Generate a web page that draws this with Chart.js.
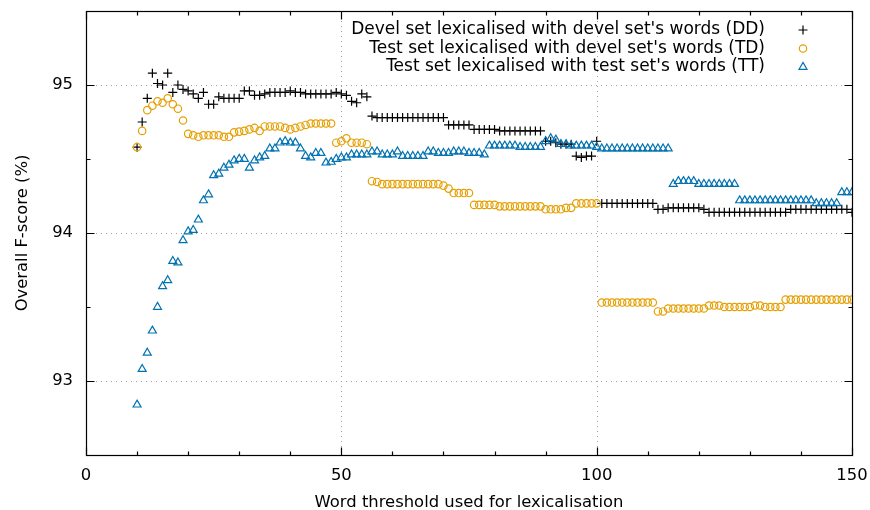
<!DOCTYPE html>
<html>
<head>
<meta charset="utf-8">
<script src="https://cdn.jsdelivr.net/npm/chart.js@4.4.0/dist/chart.umd.min.js"></script>
<style>
  html, body { margin: 0; padding: 0; background: #fff; }
  #wrap { width: 870px; height: 510px; }
</style>
</head>
<body>
<div id="wrap"><canvas id="fscore" width="870" height="510"></canvas></div>
<script>
// word threshold used for lexicalisation, 10 .. 150
const thresholds = Array.from({ length: 141 }, (_, i) => 10 + i);

// Devel set lexicalised with devel set's words (DD)
const ddScores = [
  94.58, 94.75, 94.91, 95.08, 95.01, 95.00, 95.08, 94.95, 95.00, 94.97,
  94.96, 94.94, 94.91, 94.95, 94.87, 94.87, 94.92, 94.91, 94.91, 94.91,
  94.91, 94.96, 94.96, 94.93, 94.93, 94.94, 94.95, 94.95, 94.95, 94.95,
  94.96, 94.95, 94.95, 94.94, 94.94, 94.94, 94.94, 94.94, 94.94, 94.95,
  94.94, 94.93, 94.89, 94.88, 94.94, 94.92, 94.79, 94.78, 94.78, 94.78,
  94.78, 94.78, 94.78, 94.78, 94.78, 94.78, 94.78, 94.78, 94.78, 94.78,
  94.78, 94.73, 94.73, 94.73, 94.73, 94.73, 94.70, 94.70, 94.70, 94.70,
  94.70, 94.69, 94.69, 94.69, 94.69, 94.69, 94.69, 94.69, 94.69, 94.69,
  94.62, 94.62, 94.61, 94.60, 94.60, 94.60, 94.52, 94.51, 94.52, 94.52,
  94.62, 94.20, 94.20, 94.20, 94.20, 94.20, 94.20, 94.20, 94.20, 94.20,
  94.20, 94.20, 94.16, 94.16, 94.17, 94.17, 94.17, 94.17, 94.17, 94.17,
  94.17, 94.16, 94.14, 94.14, 94.14, 94.14, 94.14, 94.14, 94.14, 94.14,
  94.14, 94.14, 94.14, 94.14, 94.14, 94.14, 94.14, 94.14, 94.16, 94.16,
  94.16, 94.16, 94.16, 94.16, 94.16, 94.16, 94.16, 94.16, 94.16, 94.16,
  94.14
];

// Test set lexicalised with devel set's words (TD)
const tdScores = [
  94.58, 94.69, 94.83, 94.86, 94.89, 94.88, 94.91, 94.87, 94.84, 94.76,
  94.67, 94.66, 94.65, 94.66, 94.66, 94.66, 94.66, 94.65, 94.65, 94.68,
  94.685, 94.69, 94.70, 94.71, 94.69, 94.72, 94.72, 94.72, 94.72, 94.71,
  94.70, 94.71, 94.72, 94.73, 94.74, 94.74, 94.74, 94.74, 94.74, 94.61,
  94.62, 94.64, 94.61, 94.61, 94.61, 94.60, 94.35, 94.345, 94.33, 94.33,
  94.33, 94.33, 94.33, 94.33, 94.33, 94.33, 94.33, 94.33, 94.33, 94.33,
  94.32, 94.30, 94.27, 94.27, 94.27, 94.27, 94.19, 94.19, 94.19, 94.19,
  94.19, 94.18, 94.18, 94.18, 94.18, 94.18, 94.18, 94.18, 94.18, 94.18,
  94.16, 94.16, 94.16, 94.16, 94.17, 94.17, 94.20, 94.20, 94.20, 94.20,
  94.20, 93.53, 93.53, 93.53, 93.53, 93.53, 93.53, 93.53, 93.53, 93.53,
  93.53, 93.53, 93.47, 93.47, 93.49, 93.49, 93.49, 93.49, 93.49, 93.49,
  93.49, 93.49, 93.51, 93.51, 93.51, 93.50, 93.50, 93.50, 93.50, 93.50,
  93.50, 93.51, 93.51, 93.50, 93.50, 93.50, 93.50, 93.55, 93.55, 93.55,
  93.55, 93.55, 93.55, 93.55, 93.55, 93.55, 93.55, 93.55, 93.55, 93.55,
  93.55
];

// Test set lexicalised with test set's words (TT)
const ttScores = [
  92.84, 93.08, 93.19, 93.34, 93.50, 93.64, 93.68, 93.81, 93.80, 93.95,
  94.01, 94.02, 94.09, 94.22, 94.26, 94.39, 94.40, 94.44, 94.46, 94.49,
  94.50, 94.50, 94.44, 94.49, 94.51, 94.52, 94.57, 94.57, 94.61, 94.62,
  94.61, 94.61, 94.57, 94.52, 94.51, 94.54, 94.54, 94.475, 94.48, 94.50,
  94.51, 94.51, 94.53, 94.53, 94.53, 94.53, 94.55, 94.55, 94.53, 94.53,
  94.53, 94.55, 94.52, 94.52, 94.52, 94.52, 94.52, 94.55, 94.55, 94.54,
  94.54, 94.54, 94.55, 94.55, 94.55, 94.54, 94.54, 94.54, 94.53, 94.59,
  94.59, 94.59, 94.59, 94.59, 94.59, 94.58, 94.58, 94.58, 94.58, 94.58,
  94.62, 94.64, 94.63, 94.60, 94.60, 94.59, 94.59, 94.59, 94.59, 94.59,
  94.58, 94.57, 94.57, 94.57, 94.57, 94.57, 94.57, 94.57, 94.57, 94.57,
  94.57, 94.57, 94.57, 94.57, 94.57, 94.33, 94.35, 94.35, 94.35, 94.35,
  94.33, 94.33, 94.33, 94.33, 94.33, 94.33, 94.33, 94.33, 94.22, 94.22,
  94.22, 94.22, 94.22, 94.22, 94.22, 94.22, 94.22, 94.22, 94.22, 94.22,
  94.22, 94.22, 94.22, 94.20, 94.20, 94.20, 94.20, 94.20, 94.275, 94.275,
  94.275
];

// tick values (labelled ones are the major ticks)
const xMajorTicks = [0, 50, 100, 150];
const xMinorTicks = [10, 20, 30, 40, 60, 70, 80, 90, 110, 120, 130, 140];
const yMajorTicks = [93, 94, 95];
const yMinorTicks = [93.5, 94.5];

const FONT = '"DejaVu Sans", sans-serif';

function points(values) {
    return values.map((v, i) => ({ x: thresholds[i], y: v }));
}

// no extra inset from first/last tick labels, layout padding decides the plot box
function noScalePadding(s) {
    s.paddingLeft = 0;
    s.paddingRight = 0;
    s.paddingTop = 0;
    s.paddingBottom = 0;
}

// gnuplot-like frame: dotted grid, box border, inward ticks, legend inside top-right
const gnuplotFrame = {
    id: 'gnuplotFrame',
    beforeDatasetsDraw(chart) {
        const { ctx, chartArea: a, scales: { x, y } } = chart;
        ctx.save();
        ctx.strokeStyle = '#a0a0a0';
        ctx.lineWidth = 1;
        ctx.setLineDash([1, 4]);
        ctx.beginPath();
        xMajorTicks.forEach(v => {
            const px = Math.round(x.getPixelForValue(v)) + 0.5;
            if (px <= a.left + 1 || px >= a.right - 1) return;
            ctx.moveTo(px, a.top);
            ctx.lineTo(px, a.bottom);
        });
        yMajorTicks.forEach(v => {
            const py = Math.round(y.getPixelForValue(v)) + 0.5;
            ctx.moveTo(a.left, py);
            ctx.lineTo(a.right, py);
        });
        ctx.stroke();
        ctx.restore();
    },
    afterDatasetsDraw(chart) {
        const { ctx, chartArea: a, scales: { x, y } } = chart;
        ctx.save();
        ctx.strokeStyle = '#000';
        ctx.lineWidth = 1.2;
        ctx.setLineDash([]);
        const L = Math.round(a.left) + 0.5, R = Math.round(a.right) + 0.5;
        const T = Math.round(a.top) + 0.5, B = Math.round(a.bottom) + 0.5;
        ctx.strokeRect(L, T, R - L, B - T);

        ctx.beginPath();
        const xTick = (v, len) => {
            const px = Math.round(x.getPixelForValue(v)) + 0.5;
            ctx.moveTo(px, B); ctx.lineTo(px, B - len);
            ctx.moveTo(px, T); ctx.lineTo(px, T + len);
        };
        const yTick = (v, len) => {
            const py = Math.round(y.getPixelForValue(v)) + 0.5;
            ctx.moveTo(L, py); ctx.lineTo(L + len, py);
            ctx.moveTo(R, py); ctx.lineTo(R - len, py);
        };
        xMajorTicks.forEach(v => xTick(v, 8));
        xMinorTicks.forEach(v => xTick(v, 4));
        yMajorTicks.forEach(v => yTick(v, 8));
        yMinorTicks.forEach(v => yTick(v, 4));
        ctx.stroke();

        // legend
        ctx.font = '17px ' + FONT;
        ctx.textAlign = 'right';
        ctx.textBaseline = 'middle';
        chart.data.datasets.forEach((ds, i) => {
            const yy = 30 + i * 18.5;
            ctx.fillStyle = '#000';
            ctx.fillText(ds.label, 765, yy);
            ctx.strokeStyle = ds.borderColor;
            ctx.fillStyle = 'rgba(0,0,0,0)';
            ctx.lineWidth = ds.borderWidth;
            Chart.helpers.drawPoint(ctx, {
                pointStyle: ds.pointStyle,
                radius: ds.pointRadius,
                rotation: 0,
                borderWidth: ds.borderWidth
            }, 803, yy);
        });
        ctx.restore();
    }
};

new Chart(document.getElementById('fscore'), {
    type: 'scatter',
    data: {
        datasets: [
            {
                label: "Devel set lexicalised with devel set's words (DD)",
                data: points(ddScores),
                pointStyle: 'cross',
                pointRadius: 4.5,
                borderColor: '#000000',
                backgroundColor: 'rgba(0,0,0,0)',
                borderWidth: 1.2,
                order: 3
            },
            {
                label: "Test set lexicalised with devel set's words (TD)",
                data: points(tdScores),
                pointStyle: 'circle',
                pointRadius: 3.7,
                borderColor: '#e69f00',
                backgroundColor: 'rgba(0,0,0,0)',
                borderWidth: 1.2,
                order: 2
            },
            {
                label: "Test set lexicalised with test set's words (TT)",
                data: points(ttScores),
                pointStyle: 'triangle',
                pointRadius: 4.6,
                borderColor: '#0072b2',
                backgroundColor: 'rgba(0,0,0,0)',
                borderWidth: 1.2,
                order: 1
            }
        ]
    },
    options: {
        responsive: false,
        animation: false,
        layout: { autoPadding: false, padding: { left: 0, right: 18, top: 11, bottom: 0 } },
        plugins: {
            legend: { display: false },
            tooltip: { enabled: false }
        },
        scales: {
            x: {
                type: 'linear',
                min: 0,
                max: 150,
                afterBuildTicks: s => { s.ticks = xMajorTicks.map(v => ({ value: v })); },
                afterFit: s => { s.height = 55; noScalePadding(s); },
                grid: { display: false, drawTicks: false },
                border: { display: false },
                ticks: { color: '#000', padding: 11, maxRotation: 0, font: { family: FONT, size: 16.4 } },
                title: {
                    display: true,
                    text: 'Word threshold used for lexicalisation',
                    color: '#000',
                    padding: 0,
                    font: { family: FONT, size: 16.4, lineHeight: 0.86 }
                }
            },
            y: {
                type: 'linear',
                min: 92.5,
                max: 95.5,
                afterBuildTicks: s => { s.ticks = yMajorTicks.map(v => ({ value: v })); },
                afterFit: s => { s.width = 86; noScalePadding(s); },
                grid: { display: false, drawTicks: false },
                border: { display: false },
                ticks: { color: '#000', padding: 13, font: { family: FONT, size: 16.4 } },
                title: {
                    display: true,
                    text: 'Overall F-score (%)',
                    color: '#000',
                    padding: { top: 13, bottom: 0 },
                    font: { family: FONT, size: 16.4 }
                }
            }
        }
    },
    plugins: [gnuplotFrame]
});
</script>
</body>
</html>
